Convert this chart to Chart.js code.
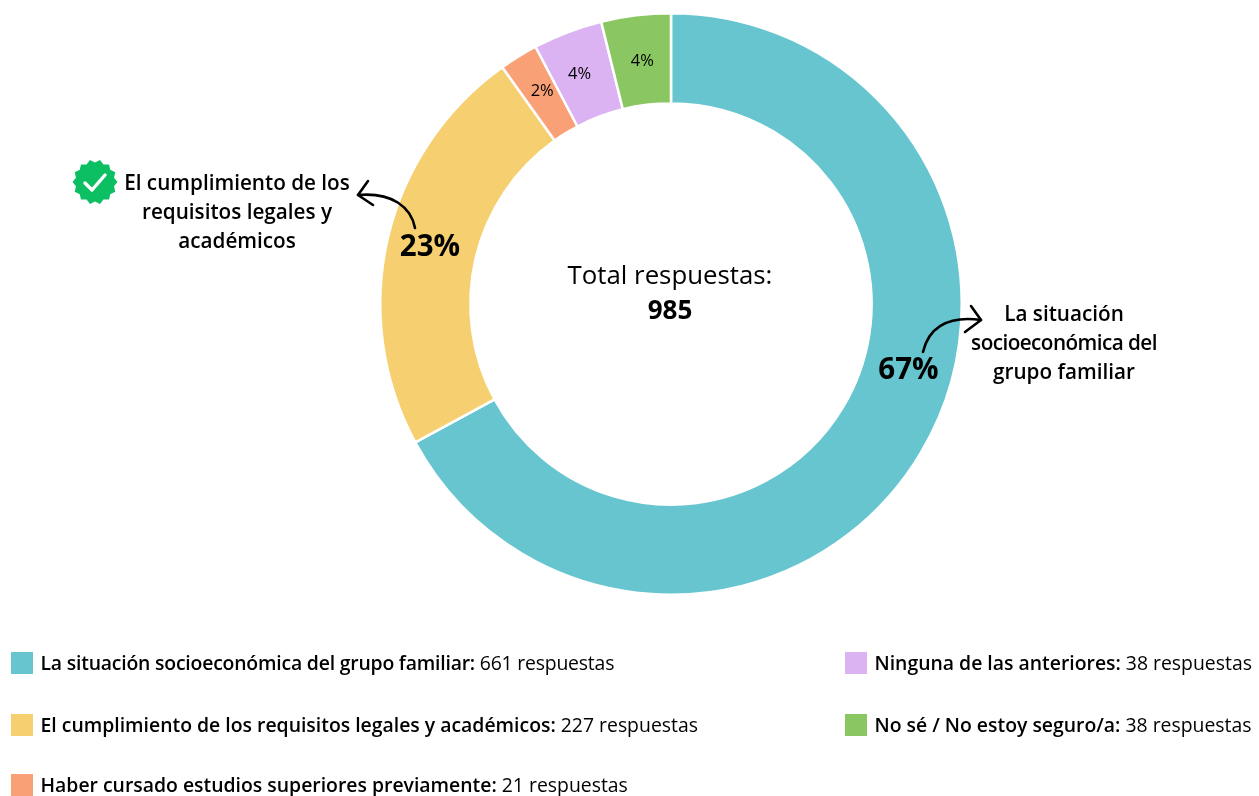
<!DOCTYPE html>
<html>
<head>
<meta charset="utf-8">
<script src="https://cdn.jsdelivr.net/npm/chart.js@4"></script>
<style>
    html, body { margin: 0; padding: 0; background: #fff; overflow: hidden; }
    #wrap { position: relative; width: 1259px; height: 796px; font-family: "Open Sans", sans-serif; color: #000; }
    canvas { position: absolute; left: 0; top: 0; }
    .legend-item { position: absolute; white-space: nowrap; font-size: 19.4px; line-height: 22px; }
    .legend-item b { font-weight: 600; }
    .swatch { position: absolute; width: 22px; height: 22px; }
</style>
</head>
<body>
<div id="wrap">
    <canvas id="chart" width="1259" height="796"></canvas>
    <div id="legend"></div>
</div>
<script>
// Chart data
const categories = [
    'La situación socioeconómica del grupo familiar',
    'El cumplimiento de los requisitos legales y académicos',
    'Haber cursado estudios superiores previamente',
    'Ninguna de las anteriores',
    'No sé / No estoy seguro/a'
];
const responses = [661, 227, 21, 38, 38];
const percentLabels = ['67%', '23%', '2%', '4%', '4%'];
const colors = ['#66C5CE', '#F6D070', '#F9A077', '#DCB3F2', '#8AC763'];
const centerLines = ['Total respuestas:', '985'];
const calloutLeft = ['El cumplimiento de los', 'requisitos legales y', 'académicos'];
const calloutRight = ['La situación', 'socioeconómica del', 'grupo familiar'];

// Legend slots, same order as categories
const legendSlots = [
    { x: 11, y: 652, spacing: -0.2 },
    { x: 11, y: 714, spacing: 0 },
    { x: 11, y: 774, spacing: 0 },
    { x: 845, y: 652, spacing: 0 },
    { x: 845, y: 714, spacing: 0 }
];

// Build the html legend
const legend = document.getElementById('legend');
categories.forEach((name, i) => {
    const slot = legendSlots[i];
    const swatch = document.createElement('div');
    swatch.className = 'swatch';
    swatch.style.left = slot.x + 'px';
    swatch.style.top = slot.y + 'px';
    swatch.style.background = colors[i];
    legend.appendChild(swatch);

    const item = document.createElement('div');
    item.className = 'legend-item';
    item.style.left = (slot.x + 29.5) + 'px';
    item.style.top = slot.y + 'px';
    item.style.letterSpacing = slot.spacing + 'px';
    item.innerHTML = `<b>${name}:</b> ${responses[i]} respuestas`;
    legend.appendChild(item);
});

function drawText(ctx, text, x, y, font, spacing) {
    ctx.font = font;
    ctx.letterSpacing = (spacing || 0) + 'px';
    ctx.fillStyle = '#000';
    ctx.textAlign = 'center';
    ctx.textBaseline = 'middle';
    ctx.fillText(text, x, y);
    ctx.letterSpacing = '0px';
}

// Curved arrow with an open head
function drawArrow(ctx, pts, head) {
    ctx.strokeStyle = '#000';
    ctx.lineWidth = 2.6;
    ctx.lineCap = 'round';
    ctx.lineJoin = 'round';
    ctx.beginPath();
    ctx.moveTo(pts[0], pts[1]);
    ctx.bezierCurveTo(pts[2], pts[3], pts[4], pts[5], pts[6], pts[7]);
    ctx.stroke();
    ctx.beginPath();
    ctx.moveTo(head[0], head[1]);
    ctx.lineTo(pts[6], pts[7]);
    ctx.lineTo(head[2], head[3]);
    ctx.stroke();
}

// Green scalloped badge with a check mark
function drawBadge(ctx, cx, cy) {
    const teeth = 14;
    ctx.fillStyle = '#0DBF63';
    ctx.beginPath();
    for (let i = 0; i < teeth * 2; i++) {
        const r = i % 2 ? 19.5 : 22.5;
        const a = i * Math.PI / teeth;
        ctx.lineTo(cx + r * Math.cos(a), cy + r * Math.sin(a));
    }
    ctx.closePath();
    ctx.fill();
    ctx.strokeStyle = '#fff';
    ctx.lineWidth = 3.4;
    ctx.lineCap = 'round';
    ctx.lineJoin = 'round';
    ctx.beginPath();
    ctx.moveTo(cx - 10, cy + 1);
    ctx.lineTo(cx - 3, cy + 8);
    ctx.lineTo(cx + 10, cy - 7);
    ctx.stroke();
}

// Everything drawn on top of the doughnut
const annotations = {
    id: 'annotations',
    afterDatasetsDraw(chart) {
        const ctx = chart.ctx;
        const arcs = chart.getDatasetMeta(0).data;
        ctx.save();

        // small percentages sit in their slices
        const nudgeX = [0, 0, 0, -4, 1];
        const nudgeY = [0, 0, -3, 0, 1];
        [2, 3, 4].forEach(i => {
            const p = arcs[i].getCenterPoint();
            drawText(ctx, percentLabels[i], p.x + nudgeX[i], p.y + nudgeY[i], '400 16.5px "Open Sans"');
        });

        // big percentages
        drawText(ctx, percentLabels[0], 908.5, 371, '700 29.5px "Open Sans"');
        drawText(ctx, percentLabels[1], 430, 248, '700 29.5px "Open Sans"');

        // center text
        drawText(ctx, centerLines[0], 670, 277, '400 25.8px "Open Sans"');
        drawText(ctx, centerLines[1], 670, 312, '700 26px "Open Sans"');

        // callouts
        calloutLeft.forEach((line, i) => {
            drawText(ctx, line, 237, 184 + i * 29, '600 20.7px "Open Sans"');
        });
        const rightSpacing = [0, -0.55, 0];
        calloutRight.forEach((line, i) => {
            drawText(ctx, line, 1064, 315 + i * 29, '600 20.7px "Open Sans"', rightSpacing[i]);
        });

        drawArrow(ctx, [415, 228, 411, 207, 392, 192, 358, 195], [368, 181, 373, 205]);
        drawArrow(ctx, [923, 352, 928, 330, 945, 315, 981, 320], [971, 306, 965, 332]);
        drawBadge(ctx, 95, 182);

        ctx.restore();
    }
};

new Chart(document.getElementById('chart'), {
    type: 'doughnut',
    data: {
        labels: categories,
        datasets: [{
            data: responses,
            backgroundColor: colors,
            borderColor: '#fff',
            borderWidth: 2.5
        }]
    },
    options: {
        responsive: false,
        animation: false,
        cutout: '69%',
        layout: { padding: { left: 379, right: 296, top: 12, bottom: 200 } },
        plugins: {
            legend: { display: false },
            tooltip: { enabled: false }
        }
    },
    plugins: [annotations]
});
</script>
</body>
</html>
